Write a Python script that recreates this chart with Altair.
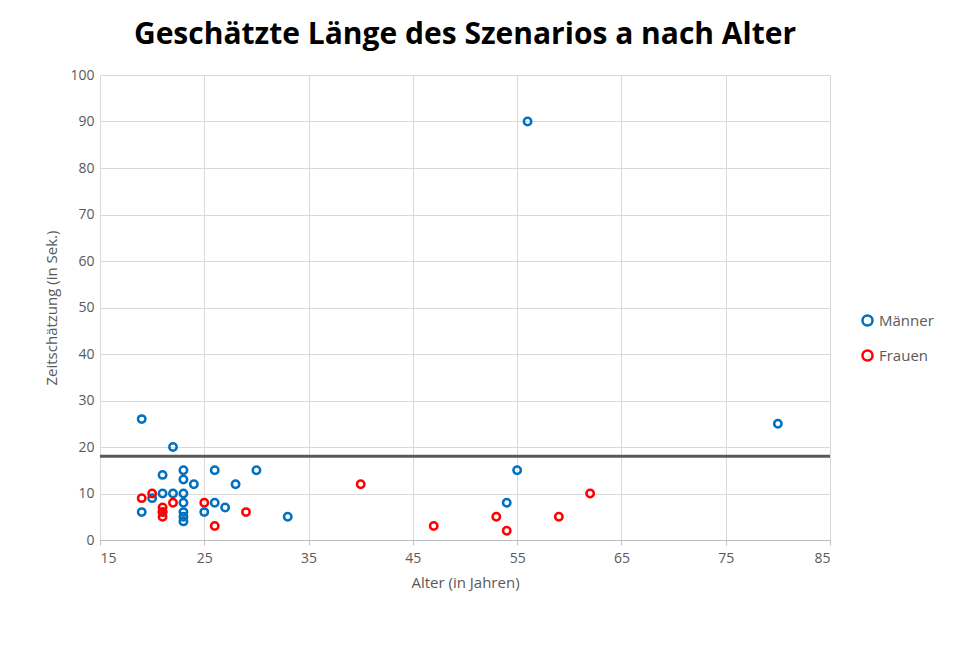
import altair as alt
import pandas as pd

m_x = [19,22,19,20,21,21,22,23,23,23,23,23,23,23,24,25,26,26,27,28,30,33,54,55,56,80,21]
m_y = [26,20,6,9,14,10,10,15,13,10,8,6,5,4,12,6,15,8,7,12,15,5,8,15,90,25,6]
f_x = [19,20,21,21,21,22,25,26,29,40,47,53,54,59,62]
f_y = [9,10,7,6,5,8,8,3,6,12,3,5,2,5,10]
ref_y = [18]
x_ticks = [15, 25, 35, 45, 55, 65, 75, 85]
y_ticks = [0, 10, 20, 30, 40, 50, 60, 70, 80, 90, 100]

df = pd.DataFrame({"Alter": m_x + f_x, "Zeit": m_y + f_y,
                   "Gruppe": ["Männer"]*len(m_x) + ["Frauen"]*len(f_x)})

pts = alt.Chart(df).mark_point(filled=False, strokeWidth=2.5, size=55, opacity=1).encode(
    x=alt.X("Alter:Q", scale=alt.Scale(domain=[15, 85], nice=False), title="Alter (in Jahren)",
            axis=alt.Axis(values=x_ticks, labelOverlap=False)),
    y=alt.Y("Zeit:Q", scale=alt.Scale(domain=[0, 100], nice=False), title="Zeitschätzung (in Sek.)",
            axis=alt.Axis(values=y_ticks, labelOverlap=False)),
    color=alt.Color("Gruppe:N", scale=alt.Scale(domain=["Männer", "Frauen"], range=["#0070C0", "#FF0000"]),
                    legend=alt.Legend(title=None, orient="none", legendX=760, legendY=238,
                                      symbolStrokeWidth=2.5, labelFontSize=15, rowPadding=14,
                                      labelFont="Open Sans", labelColor="#595959")),
)
rule = alt.Chart(pd.DataFrame({"y": ref_y})).mark_rule(color="#595959", strokeWidth=3).encode(y="y:Q")

chart = (rule + pts).properties(
    width=730, height=465,
    padding={"left": 36, "top": 12, "right": 20, "bottom": 10},
    title=alt.Title("Geschätzte Länge des Szenarios a nach Alter", fontSize=30, font="Open Sans",
                    fontWeight="bold", color="black", offset=18),
).configure_axis(
    labelFont="Open Sans", titleFont="Open Sans", labelFontSize=14, titleFontSize=15,
    labelColor="#595959", titleColor="#595959", titleFontWeight="normal",
    gridColor="#D9D9D9", domainColor="#BFBFBF", tickColor="#BFBFBF", labelPadding=6, titlePadding=10,
).configure_axisY(domain=False, ticks=False).configure_view(stroke=None)

chart.save("out.html", embed_options={"renderer": "svg", "actions": False})
